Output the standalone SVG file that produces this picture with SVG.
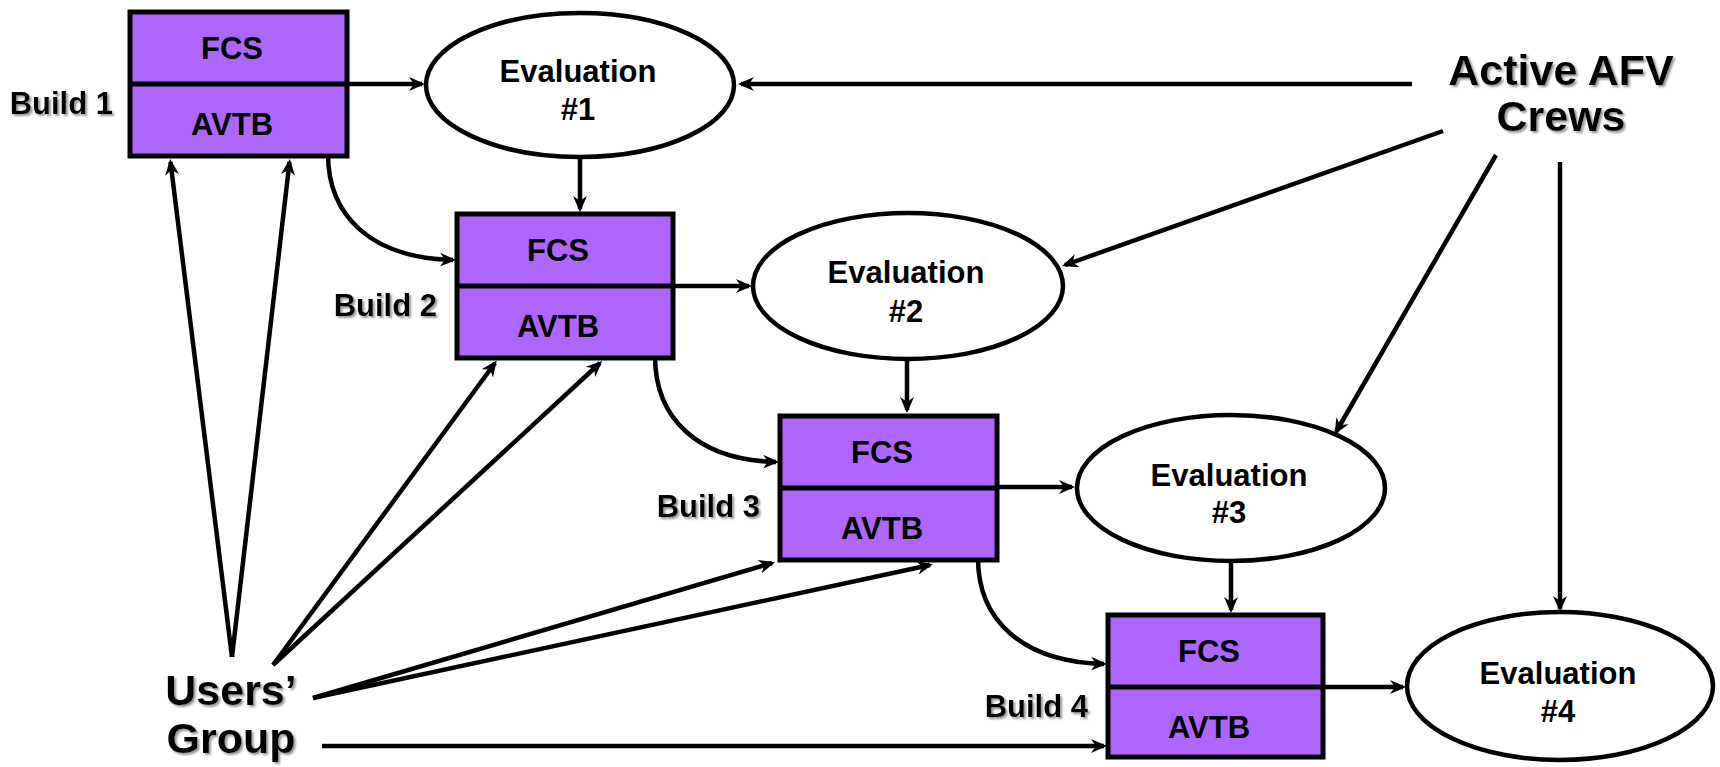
<svg xmlns="http://www.w3.org/2000/svg" width="1720" height="767" viewBox="0 0 1720 767">
<defs>
<style>
.box{fill:#AE66FF;stroke:#000;stroke-width:5}
.div{stroke:#000;stroke-width:5}
.ell{fill:#fff;stroke:#000;stroke-width:4.5}
.t{font-family:"Liberation Sans",Arial,sans-serif;font-weight:bold;fill:#000;text-anchor:middle}
.bt{font-size:31px}
.lbl{font-family:"Liberation Sans",Arial,sans-serif;font-weight:bold;fill:#000;font-size:31px;text-anchor:end;filter:url(#sh)}
.big{font-family:"Liberation Sans",Arial,sans-serif;font-weight:bold;fill:#000;font-size:43px;text-anchor:middle;filter:url(#sh)}
.c{fill:none;stroke:#000;stroke-width:4.5;marker-end:url(#ah)}
</style>
<filter id="sh" x="-10%" y="-20%" width="130%" height="150%">
<feDropShadow dx="2" dy="2" stdDeviation="0.8" flood-color="#8a8a8a" flood-opacity="0.9"/>
</filter>
<marker id="ah" markerUnits="userSpaceOnUse" viewBox="0 -8 18 16" markerWidth="18" markerHeight="16" refX="13" refY="0" orient="auto">
<path d="M0,-7 L16,0 L0,7 L5,0 Z" fill="#000"/>
</marker>
</defs>
<rect width="1720" height="767" fill="#fff"/>

<g id="connectors">
<line class="c" x1="348" y1="84" x2="422" y2="84"/>
<line class="c" x1="580" y1="157" x2="580" y2="209"/>
<line class="c" x1="675" y1="286" x2="749" y2="286"/>
<line class="c" x1="907" y1="359" x2="907" y2="410"/>
<line class="c" x1="999" y1="487" x2="1072" y2="487"/>
<line class="c" x1="1231" y1="561" x2="1231" y2="610"/>
<line class="c" x1="1325" y1="687" x2="1403" y2="687"/>
<line class="c" x1="1412" y1="84" x2="741" y2="84"/>
<line class="c" x1="1443" y1="131" x2="1065" y2="265"/>
<line class="c" x1="1496" y1="155" x2="1336" y2="432"/>
<line class="c" x1="1560" y1="162" x2="1560" y2="609"/>
<path class="c" d="M328,154 C328,215 370,258 453,260"/>
<path class="c" d="M655,356 C655,418 697,460 776,462"/>
<path class="c" d="M978,558 C978,620 1022,662 1104,664"/>
<line class="c" x1="232" y1="657" x2="170.5" y2="162"/>
<line class="c" x1="232" y1="657" x2="289.5" y2="162"/>
<line class="c" x1="273" y1="665" x2="495" y2="363"/>
<line class="c" x1="273" y1="665" x2="600" y2="363"/>
<line class="c" x1="313" y1="698" x2="772" y2="563"/>
<line class="c" x1="313" y1="698" x2="930" y2="565"/>
<line class="c" x1="322" y1="746" x2="1104" y2="746"/>
</g>

<g id="build1">
<rect class="box" x="130" y="12" width="217" height="144"/>
<line class="div" x1="130" y1="84" x2="347" y2="84"/>
<text class="t bt" x="232" y="59">FCS</text>
<text class="t bt" x="232" y="135">AVTB</text>
<text class="lbl" x="113" y="114">Build 1</text>
</g>
<g id="build2">
<rect class="box" x="457" y="214" width="216" height="144"/>
<line class="div" x1="457" y1="286" x2="673" y2="286"/>
<text class="t bt" x="558" y="261">FCS</text>
<text class="t bt" x="558" y="337">AVTB</text>
<text class="lbl" x="437" y="316">Build 2</text>
</g>
<g id="build3">
<rect class="box" x="780" y="416" width="217" height="144"/>
<line class="div" x1="780" y1="488" x2="997" y2="488"/>
<text class="t bt" x="882" y="463">FCS</text>
<text class="t bt" x="882" y="539">AVTB</text>
<text class="lbl" x="760" y="517">Build 3</text>
</g>
<g id="build4">
<rect class="box" x="1108" y="615" width="215" height="142"/>
<line class="div" x1="1108" y1="687" x2="1323" y2="687"/>
<text class="t bt" x="1209" y="662">FCS</text>
<text class="t bt" x="1209" y="738">AVTB</text>
<text class="lbl" x="1088" y="717">Build 4</text>
</g>

<g id="eval1">
<ellipse class="ell" cx="580" cy="85" rx="154" ry="72"/>
<text class="t bt" x="578" y="82">Evaluation</text>
<text class="t bt" x="578" y="120">#1</text>
</g>
<g id="eval2">
<ellipse class="ell" cx="908" cy="286" rx="155" ry="73"/>
<text class="t bt" x="906" y="283">Evaluation</text>
<text class="t bt" x="906" y="322">#2</text>
</g>
<g id="eval3">
<ellipse class="ell" cx="1231" cy="488" rx="154" ry="73"/>
<text class="t bt" x="1229" y="486">Evaluation</text>
<text class="t bt" x="1229" y="523">#3</text>
</g>
<g id="eval4">
<ellipse class="ell" cx="1560" cy="686" rx="153" ry="74"/>
<text class="t bt" x="1558" y="684">Evaluation</text>
<text class="t bt" x="1558" y="722">#4</text>
</g>

<g id="crews">
<text class="big" x="1561" y="85">Active AFV</text>
<text class="big" x="1561" y="131">Crews</text>
</g>
<g id="users">
<text class="big" x="231" y="705">Users’</text>
<text class="big" x="231" y="753">Group</text>
</g>
</svg>
